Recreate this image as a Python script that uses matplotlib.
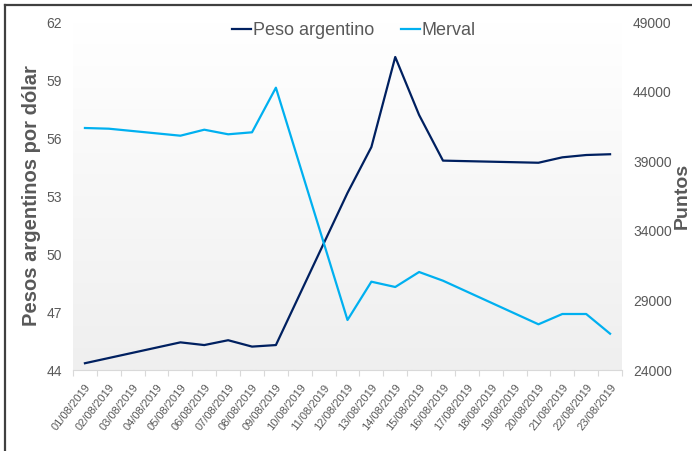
import numpy as np
import matplotlib
matplotlib.use("Agg")
import matplotlib.pyplot as plt
from matplotlib.lines import Line2D
from matplotlib.colors import LinearSegmentedColormap

plt.rcParams['font.family'] = ['Liberation Sans', 'DejaVu Sans']

# ---- data ----
dates = ["01/08/2019", "02/08/2019", "03/08/2019", "04/08/2019", "05/08/2019",
         "06/08/2019", "07/08/2019", "08/08/2019", "09/08/2019", "10/08/2019",
         "11/08/2019", "12/08/2019", "13/08/2019", "14/08/2019", "15/08/2019",
         "16/08/2019", "17/08/2019", "18/08/2019", "19/08/2019", "20/08/2019",
         "21/08/2019", "22/08/2019", "23/08/2019"]
# None = no quotation (weekend / holiday)
peso = [44.35, 44.62, None, None, 45.43, 45.29, 45.54, 45.21, 45.29, None,
        None, 53.16, 55.53, 60.19, 57.19, 54.83, None, None, None, 54.72,
        55.00, 55.12, 55.16]
merval = [41385, 41335, None, None, 40832, 41263, 40933, 41076, 44281, None,
          None, 27592, 30344, 29963, 31040, 30415, None, None, None, 27283,
          28023, 28023, 26608]

left_ticks = [44, 47, 50, 53, 56, 59, 62]
right_ticks = [24000, 29000, 34000, 39000, 44000, 49000]

NAVY = "#002060"
CYAN = "#00b0f0"
GREY_TXT = "#595959"

fig = plt.figure(figsize=(6.92, 4.51), dpi=100)
ax = fig.add_axes([73/692, 1-370/451, 549/692, 348/451])
ax2 = ax.twinx()

x = np.arange(len(dates))
p = np.array([np.nan if v is None else v for v in peso], dtype=float)
m = np.array([np.nan if v is None else v for v in merval], dtype=float)
pv = ~np.isnan(p)
mv = ~np.isnan(m)

# gradient background: white at top, light grey at bottom
grad = np.linspace(0, 1, 256).reshape(-1, 1)
cmap = LinearSegmentedColormap.from_list("g", ["#ffffff", "#efefef"])
ax.imshow(grad, extent=[-0.5, len(dates)-0.5, 44, 62], origin='upper',
          aspect='auto', cmap=cmap, zorder=0)

ax.plot(x[pv], p[pv], color=NAVY, lw=1.6, zorder=3)
ax2.plot(x[mv], m[mv], color=CYAN, lw=1.6, zorder=3)

ax.set_xlim(-0.5, len(dates)-0.5)
ax.set_ylim(44, 62)
ax2.set_ylim(24000, 49000)
ax.set_yticks(left_ticks)
ax2.set_yticks(right_ticks)
ax.set_yticklabels([str(t) for t in left_ticks])
ax2.set_yticklabels([str(t) for t in right_ticks])

ax.set_xticks(x)
ax.set_xticklabels(dates, rotation=52, ha='right', va='top',
                   rotation_mode='anchor', fontsize=8, color=GREY_TXT)
ax.set_xticks(np.arange(len(dates)+1)-0.5, minor=True)
ax.tick_params(axis='x', which='major', length=0, pad=9)
ax.tick_params(axis='x', which='minor', length=4, color="#d9d9d9", width=0.8)

ax.tick_params(axis='y', length=0, labelsize=10, colors=GREY_TXT, pad=8)
ax2.tick_params(axis='y', length=0, labelsize=10, colors=GREY_TXT, pad=8)

for a in (ax, ax2):
    for s in ("top", "left", "right"):
        a.spines[s].set_visible(False)
    a.spines["bottom"].set_color("#d9d9d9")
    a.spines["bottom"].set_linewidth(0.8)
ax2.spines["bottom"].set_visible(False)

ax.set_ylabel("Pesos argentinos por dólar", fontsize=14.5, fontweight='bold',
              color=GREY_TXT, labelpad=4)
ax2.set_ylabel("Puntos", fontsize=14, fontweight='bold', color=GREY_TXT,
               rotation=90, va='bottom')
ax2.yaxis.set_label_coords(1.126, 0.5)

handles = [Line2D([], [], color=NAVY, lw=1.6), Line2D([], [], color=CYAN, lw=1.6)]
leg = ax.legend(handles, ["Peso argentino", "Merval"], loc='center',
                bbox_to_anchor=(0.512, 0.975), ncol=2, frameon=False,
                fontsize=13, handlelength=1.05, handletextpad=0.1,
                columnspacing=1.5)
for t in leg.get_texts():
    t.set_color(GREY_TXT)

# outer frame (partially cropped chart border)
fig.add_artist(Line2D([5/692, 1], [1-5/451, 1-5/451], transform=fig.transFigure,
                      color="#404040", lw=1.6))
fig.add_artist(Line2D([5/692, 5/692], [0, 1-5/451], transform=fig.transFigure,
                      color="#404040", lw=1.6))

fig.savefig("out.png", dpi=100)
